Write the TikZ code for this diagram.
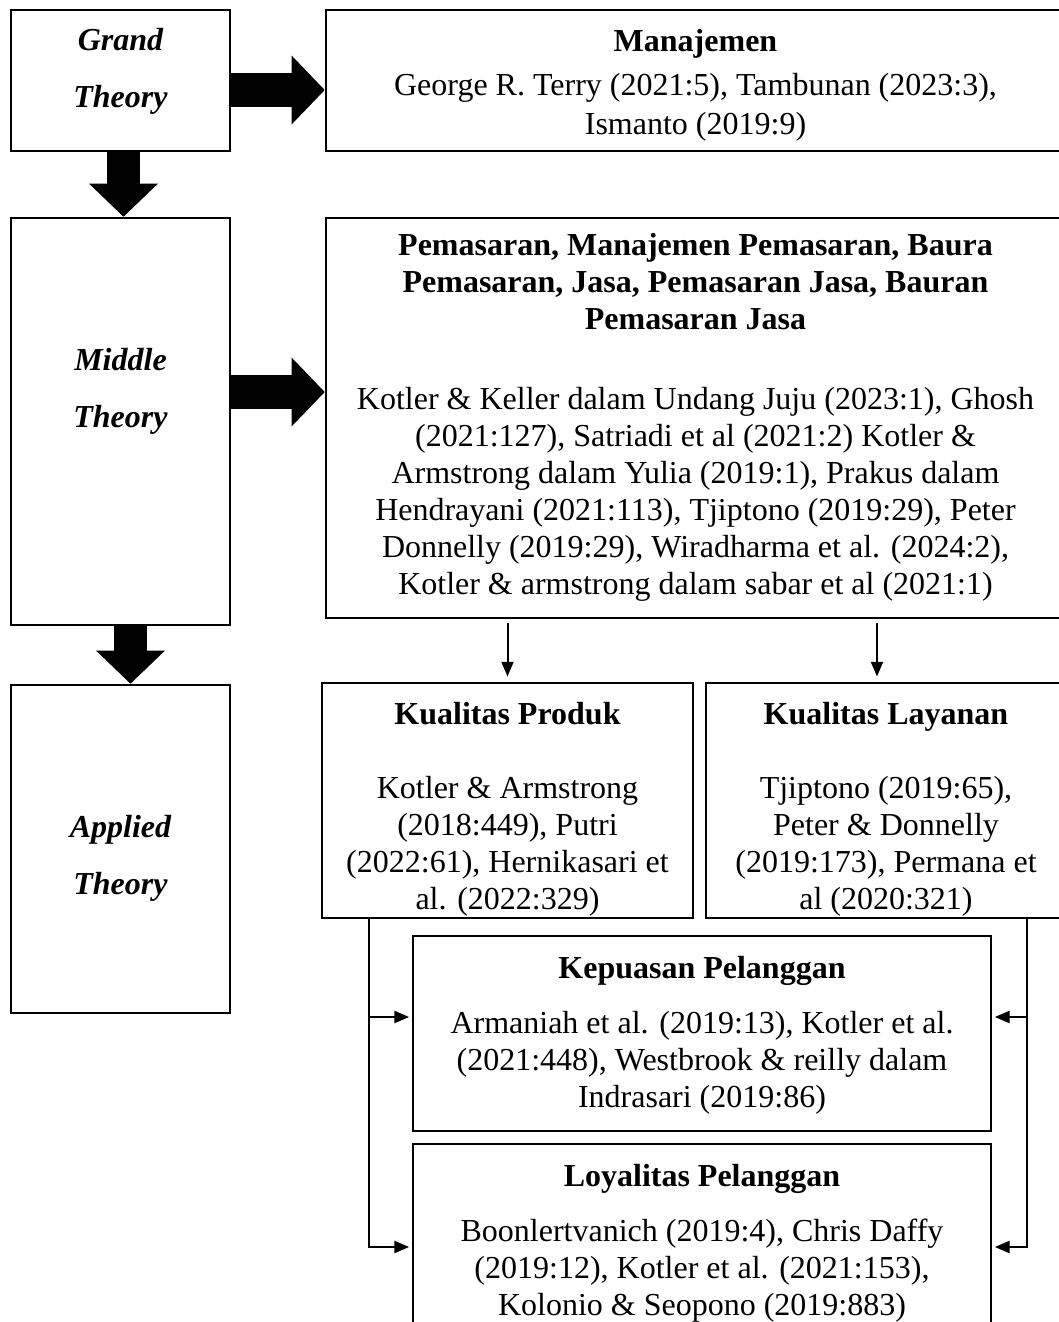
\documentclass[tikz,border=0pt]{standalone}
\usepackage{fontspec}
\setmainfont{Liberation Serif}
\usetikzlibrary{positioning,calc,arrows.meta}

\newcommand{\pxu}{0.375pt}

\tikzset{
  box/.style={draw, line width=0.9pt, inner sep=0pt},
  bodytxt/.style={align=center, inner sep=0pt, font=\fontsize{12}{13.9}\selectfont},
  sidetxt/.style={align=center, inner sep=0pt, font=\fontsize{12}{21.4}\selectfont\bfseries\itshape},
  fatarrow/.style={line width=12.6pt, -{Triangle[width=25pt,length=12.4pt]}},
  thinarrow/.style={line width=0.75pt, -{Triangle[width=4.5pt,length=5.5pt]}},
}

\begin{document}
\begin{tikzpicture}[x=0.375pt, y=-0.375pt]
\useasboundingbox (0,0) rectangle (1059,1322);
\clip (0,0) rectangle (1059,1322);

% left column
\node[box, minimum width=219*\pxu, minimum height=141*\pxu] (grand) at (120.5,80.5) {};
\node[box, minimum width=219*\pxu, minimum height=407*\pxu] (middle) at (120.5,421.5) {};
\node[box, minimum width=219*\pxu, minimum height=328*\pxu] (applied) at (120.5,849) {};
\node[sidetxt] (grandtxt) at (120.5,71.5) {Grand\\Theory};
\node[sidetxt] (middletxt) at (120.5,391) {Middle\\Theory};
\node[sidetxt] (appliedtxt) at (120.5,858) {Applied\\Theory};

% right column
\node[box, minimum width=739*\pxu, minimum height=141*\pxu] (manaj) at (695.5,80.5) {};
\node[box, minimum width=739*\pxu, minimum height=400*\pxu] (pemas) at (695.5,418) {};
\node[box, minimum width=371*\pxu, minimum height=235*\pxu] (kprod) at (507.5,800.5) {};
\node[box, minimum width=360*\pxu, minimum height=235*\pxu] (klay) at (886,800.5) {};
\node[box, minimum width=578*\pxu, minimum height=195*\pxu] (kpuas) at (702,1033.5) {};
\node[box, minimum width=578*\pxu, minimum height=186*\pxu] (loyal) at (702,1237) {};

\node[bodytxt, below=7.6pt of manaj.north] (manajtxt) {\textbf{Manajemen}\\[2.5pt]
  George R. Terry (2021:5), Tambunan (2023:3),\\[0.8pt] Ismanto (2019:9)};
\node[bodytxt, below=6pt of pemas.north] (pemastxt) {\textbf{Pemasaran, Manajemen Pemasaran, Baura}\\
  \textbf{Pemasaran, Jasa, Pemasaran Jasa, Bauran}\\ \textbf{Pemasaran Jasa}\\[16pt]
  Kotler \& Keller dalam Undang Juju (2023:1), Ghosh\\
  (2021:127), Satriadi et al (2021:2) Kotler \&\\
  Armstrong dalam Yulia (2019:1), Prakus dalam\\
  Hendrayani (2021:113), Tjiptono (2019:29), Peter\\
  Donnelly (2019:29), Wiradharma et al. (2024:2),\\
  Kotler \& armstrong dalam sabar et al (2021:1)};
\node[bodytxt, below=7.5pt of kprod.north] (kprodtxt) {\textbf{Kualitas Produk}\\[13.9pt]
  Kotler \& Armstrong\\ (2018:449), Putri\\ (2022:61), Hernikasari et\\ al. (2022:329)};
\node[bodytxt, below=7.5pt of klay.north] (klaytxt) {\textbf{Kualitas Layanan}\\[13.9pt]
  Tjiptono (2019:65),\\ Peter \& Donnelly\\ (2019:173), Permana et\\ al (2020:321)};
\node[bodytxt, below=7.8pt of kpuas.north] (kpuastxt) {\textbf{Kepuasan Pelanggan}\\[6.7pt]
  Armaniah et al. (2019:13), Kotler et al.\\ (2021:448), Westbrook \& reilly dalam\\ Indrasari (2019:86)};
\node[bodytxt, below=7.8pt of loyal.north] (loyaltxt) {\textbf{Loyalitas Pelanggan}\\[6.7pt]
  Boonlertvanich (2019:4), Chris Daffy\\ (2019:12), Kotler et al. (2021:153),\\ Kolonio \& Seopono (2019:883)};

% thick arrows
\draw[fatarrow] (grand.east |- 0,90) -- (manaj.west |- 0,90);
\draw[fatarrow] (middle.east |- 0,392) -- (pemas.west |- 0,392);
\draw[fatarrow] ($(grand.south)+(3,0)$) -- ($(middle.north)+(3,0)$);
\draw[fatarrow] ($(middle.south)+(10,0)$) -- ($(applied.north)+(10,0)$);

% thin arrows
\draw[thinarrow, shorten <=1.5pt, shorten >=2pt] (pemas.south -| kprod.north) -- (kprod.north);
\draw[thinarrow, shorten <=1.5pt, shorten >=2pt] ($(pemas.south -| klay.north)+(-9,0)$) -- ($(klay.north)+(-9,0)$);

\coordinate (lsplit) at ($(kprod.south west)+(48,0)$);
\coordinate (rsplit) at ($(klay.south west)+(322,0)$);
\draw[thinarrow, shorten >=1pt] (lsplit) |- (loyal.west |- 0,1247);
\draw[thinarrow, shorten >=1pt] (lsplit |- 0,1017) -- (kpuas.west |- 0,1017);
\draw[thinarrow, shorten >=1pt] (rsplit) |- (loyal.east |- 0,1247);
\draw[thinarrow, shorten >=1pt] (rsplit |- 0,1017) -- (kpuas.east |- 0,1017);
\end{tikzpicture}
\end{document}
